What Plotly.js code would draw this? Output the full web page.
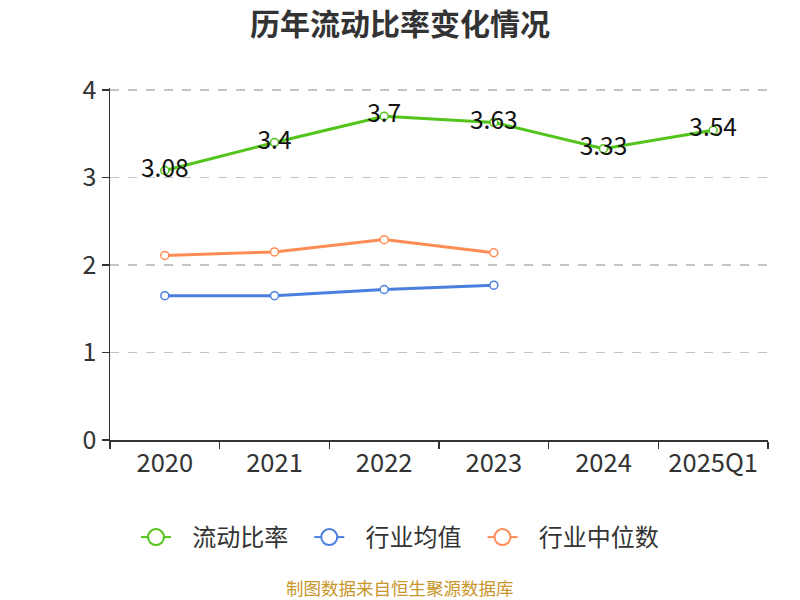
<!DOCTYPE html>
<html>
<head>
<meta charset="utf-8">
<script src="https://cdn.plot.ly/plotly-3.0.1.min.js"></script>
<style>html,body{margin:0;padding:0;background:#fff;}#chart{width:800px;height:600px;}</style>
</head>
<body>
<div id="chart"></div>
<script>
const categories = ["2020", "2021", "2022", "2023", "2024", "2025Q1"];
const currentRatio = [3.08, 3.4, 3.7, 3.63, 3.33, 3.54];
const industryMean = [1.65, 1.65, 1.72, 1.77, null, null];
const industryMedian = [2.11, 2.15, 2.29, 2.14, null, null];
const seriesNames = ["流动比率", "行业均值", "行业中位数"];
const seriesColors = ["#52c41a", "#4a7fe0", "#ff8c55"];
const yTicks = [0, 1, 2, 3, 4];

const FONT = '"Noto Sans CJK SC", "Noto Sans", sans-serif';
const NB = '\u00a0';

function series(name, y, color, withText) {
  const t = {
    type: 'scatter',
    mode: withText ? 'lines+markers+text' : 'lines+markers',
    name: name,
    x: categories,
    y: y,
    showlegend: false,
    line: {color: color, width: 3},
    marker: {symbol: 'circle', size: 8, color: '#ffffff', line: {color: color, width: 1.5}},
    cliponaxis: false,
    hoverinfo: 'x+y'
  };
  if (withText) {
    t.text = y.map(v => String(v));
    t.textposition = 'middle center';
    t.textfont = {family: FONT, size: 24.5, color: '#111111'};
  }
  return t;
}

function legendEntry(name, color, last) {
  return {
    type: 'scatter', mode: 'lines+markers',
    name: NB + NB + NB + name + (last ? '' : NB + NB + NB),
    x: [categories[0]], y: [null],
    line: {color: color, width: 2},
    marker: {symbol: 'circle', size: 16, color: '#ffffff', line: {color: color, width: 2}},
    hoverinfo: 'skip'
  };
}

const data = [
  series(seriesNames[0], currentRatio, seriesColors[0], true),
  series(seriesNames[1], industryMean, seriesColors[1], false),
  series(seriesNames[2], industryMedian, seriesColors[2], false),
  legendEntry(seriesNames[0], seriesColors[0], false),
  legendEntry(seriesNames[1], seriesColors[1], false),
  legendEntry(seriesNames[2], seriesColors[2], true)
];

const layout = {
  width: 800, height: 600,
  margin: {l: 110, r: 32, t: 88, b: 160, autoexpand: false},
  paper_bgcolor: '#ffffff', plot_bgcolor: '#ffffff',
  font: {family: FONT, color: '#333333'},
  title: {text: '<b>历年流动比率变化情况</b>', x: 0.5, xanchor: 'center', y: 0.96, yanchor: 'middle',
          font: {family: FONT, size: 30, color: '#333333'}},
  xaxis: {
    type: 'category', categoryorder: 'array', categoryarray: categories,
    range: [-0.5, 5.5],
    showline: true, linecolor: '#333333', linewidth: 1.5,
    ticks: 'outside', tickson: 'boundaries', ticklen: 7, tickcolor: '#333333', tickwidth: 1.5,
    showgrid: false, zeroline: false, tickangle: 0, automargin: false,
    tickfont: {family: FONT, size: 25.5, color: '#333333'}
  },
  yaxis: {
    range: [0, 4.023], tickvals: yTicks, ticktext: yTicks.map(String),
    showline: true, linecolor: '#333333', linewidth: 1.5,
    ticks: 'outside', ticklen: 7, tickcolor: '#333333', tickwidth: 1.5,
    showgrid: true, gridcolor: '#c4c4c4', griddash: 'dash', gridwidth: 1.3,
    zeroline: false, automargin: false,
    tickfont: {family: FONT, size: 25, color: '#333333'}
  },
  showlegend: true,
  legend: {orientation: 'h', xref: 'container', x: 0.5, xanchor: 'center', y: -0.277, yanchor: 'middle',
           font: {family: FONT, size: 24, color: '#333333'}, tracegroupgap: 0},
  annotations: [{
    text: '制图数据来自恒生聚源数据库', xref: 'paper', yref: 'paper',
    x: 0.4407, xanchor: 'center', y: -0.42, yanchor: 'middle', showarrow: false,
    font: {family: FONT, size: 17.5, color: '#c8962a'}
  }]
};

Plotly.newPlot('chart', data, layout, {displayModeBar: false, staticPlot: true});
</script>
</body>
</html>
